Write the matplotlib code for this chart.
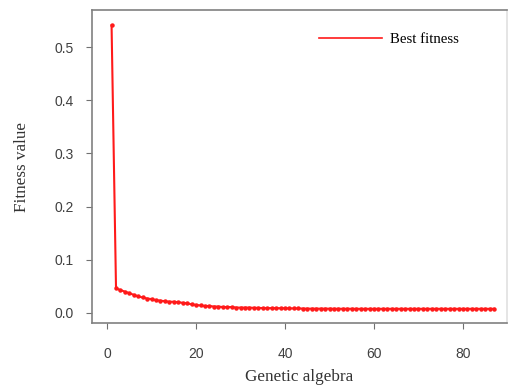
import matplotlib
matplotlib.use("Agg")
import matplotlib.pyplot as plt

generations = list(range(1, 88))
best_fitness = [
    0.541, 0.046, 0.043, 0.040, 0.037, 0.034, 0.031, 0.029, 0.027, 0.026,
    0.024, 0.023, 0.022, 0.021, 0.021, 0.020, 0.019, 0.018, 0.016, 0.015,
    0.014, 0.013, 0.013, 0.012, 0.012, 0.011, 0.011, 0.011, 0.010, 0.010,
    0.010, 0.010, 0.0095, 0.0095, 0.009, 0.009, 0.009, 0.009, 0.0088, 0.0088,
    0.0085, 0.0085, 0.0083, 0.0082, 0.008, 0.008, 0.008, 0.008, 0.008, 0.008,
    0.0078, 0.0078, 0.0078, 0.0078, 0.0078, 0.0077, 0.0077, 0.0077, 0.0077, 0.0077,
    0.0077, 0.0077, 0.0077, 0.0077, 0.0077, 0.0077, 0.0077, 0.0077, 0.0077, 0.0077,
    0.0077, 0.0077, 0.0077, 0.0077, 0.0077, 0.0077, 0.0077, 0.0077, 0.0077, 0.0077,
    0.0077, 0.0077, 0.0077, 0.0077, 0.0077, 0.0077, 0.0077,
]
x_ticks = [0, 20, 40, 60, 80]
y_ticks = [0.0, 0.1, 0.2, 0.3, 0.4, 0.5]

fig = plt.figure(figsize=(5.11, 3.89), dpi=100)
ax = fig.add_axes([92/511, 1 - 323/389, (507-92)/511, (323-10)/389])

ax.plot(generations, best_fitness, color="#ff1a1a", lw=1.5, marker="o",
        markersize=2.2, label="Best fitness")

ax.set_xlim(-3.4, 89.9)
ax.set_ylim(-0.019, 0.570)
ax.set_xticks(x_ticks)
ax.set_yticks(y_ticks)
ax.set_yticklabels([f"{v:.1f}" for v in y_ticks])

for s in ax.spines.values():
    s.set_color("#808080")
    s.set_linewidth(1.2)
ax.spines["right"].set_color("#e0e0e0")
ax.tick_params(direction="out", length=4, color="#707070", labelcolor="#404040",
               labelsize=10)
for lab in ax.get_xticklabels() + ax.get_yticklabels():
    lab.set_family("Liberation Sans")
ax.xaxis.set_tick_params(pad=13)
ax.yaxis.set_tick_params(pad=9)

ax.set_xlabel("Genetic algebra", family="Liberation Serif", fontsize=12.3,
              color="#333333", labelpad=6)
ax.set_ylabel("Fitness value", family="Liberation Serif", fontsize=12.3,
              color="#333333", labelpad=18)

leg = ax.legend(loc="upper right", frameon=False, handlelength=4.3,
                handletextpad=0.5,
                prop={"family": "Liberation Serif", "size": 10.6},
                bbox_to_anchor=(0.915, 0.97))
for h in leg.get_lines():
    h.set_marker("")
    h.set_linewidth(1.2)

fig.savefig("out.png", dpi=100)
